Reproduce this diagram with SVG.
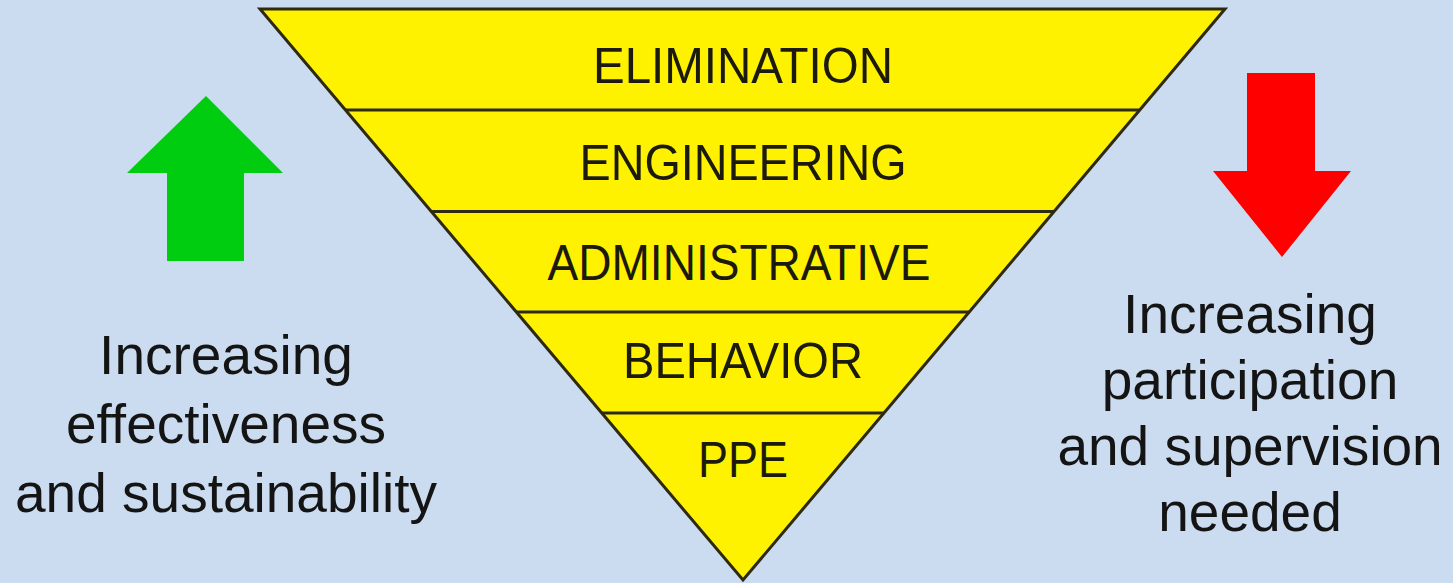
<svg xmlns="http://www.w3.org/2000/svg" width="1453" height="583" viewBox="0 0 1453 583">
  <style>
    .band { fill: #fff200; stroke: none; }
    .edge { fill: none; stroke: #2e2a10; stroke-width: 3; stroke-linejoin: miter; }
    .lbl { font-family: "Liberation Sans", Arial, sans-serif; font-size: 50px; fill: #1c1a0c; text-anchor: middle; }
    .side { font-family: "Liberation Sans", Arial, sans-serif; font-size: 55px; fill: #141414; text-anchor: middle; }
  </style>
  <rect x="0" y="0" width="1453" height="583" fill="#cbdbf0"/>

  <g id="elimination">
    <polygon class="band" points="260,9 1225,9 1139.7,110 345.4,110"/>
    <text class="lbl" x="743" y="83" textLength="300" lengthAdjust="spacingAndGlyphs">ELIMINATION</text>
  </g>
  <g id="engineering">
    <polygon class="band" points="345.4,110 1139.7,110 1054.1,211.5 431.3,211.5"/>
    <text class="lbl" x="743" y="180" textLength="327" lengthAdjust="spacingAndGlyphs">ENGINEERING</text>
  </g>
  <g id="administrative">
    <polygon class="band" points="431.3,211.5 1054.1,211.5 969.2,312 516.3,312"/>
    <text class="lbl" x="739" y="280" textLength="383" lengthAdjust="spacingAndGlyphs">ADMINISTRATIVE</text>
  </g>
  <g id="behavior">
    <polygon class="band" points="516.3,312 969.2,312 884,413 601.7,413"/>
    <text class="lbl" x="743" y="378" textLength="240" lengthAdjust="spacingAndGlyphs">BEHAVIOR</text>
  </g>
  <g id="ppe">
    <polygon class="band" points="601.7,413 884,413 743,580"/>
    <text class="lbl" x="743" y="477" textLength="90" lengthAdjust="spacingAndGlyphs">PPE</text>
  </g>

  <g id="connectors">
    <polygon class="edge" points="260,9 1225,9 743,580"/>
    <line class="edge" x1="345.4" y1="110" x2="1139.7" y2="110"/>
    <line class="edge" x1="431.3" y1="211.5" x2="1054.1" y2="211.5"/>
    <line class="edge" x1="516.3" y1="312" x2="969.2" y2="312"/>
    <line class="edge" x1="601.7" y1="413" x2="884" y2="413"/>
  </g>

  <g id="up-arrow">
    <polygon fill="#00cc10" points="206,96 283,173 244,173 244,261 167,261 167,173 127,173"/>
  </g>
  <g id="down-arrow">
    <polygon fill="#ff0000" points="1247,73 1315,73 1315,171 1351,171 1282,257 1213,171 1247,171"/>
  </g>

  <g id="left-label">
    <text class="side" x="226" y="374">Increasing</text>
    <text class="side" x="226" y="443">effectiveness</text>
    <text class="side" x="226" y="512">and sustainability</text>
  </g>
  <g id="right-label">
    <text class="side" x="1250" y="333">Increasing</text>
    <text class="side" x="1250" y="399">participation</text>
    <text class="side" x="1250" y="465">and supervision</text>
    <text class="side" x="1250" y="531">needed</text>
  </g>
</svg>
